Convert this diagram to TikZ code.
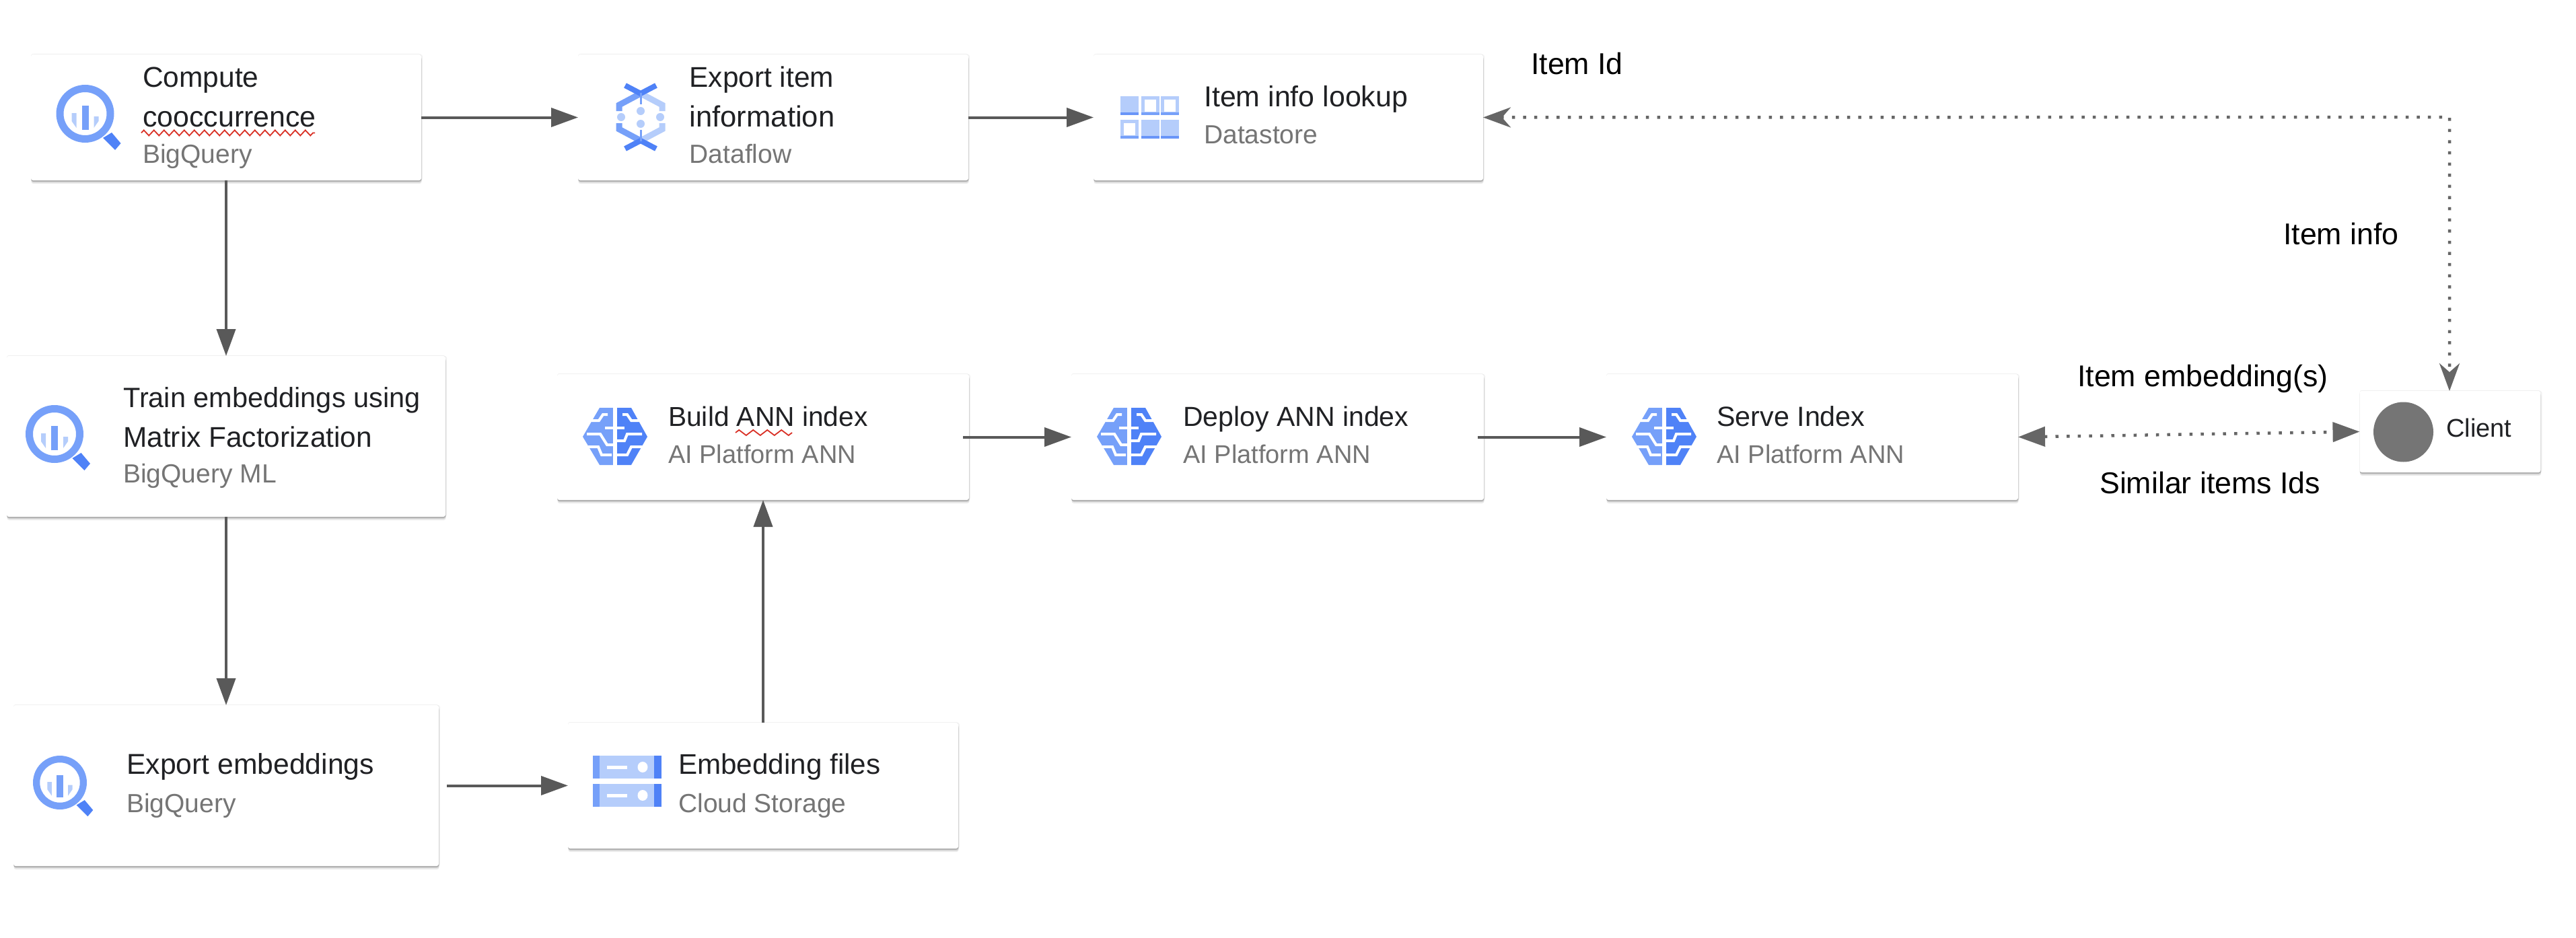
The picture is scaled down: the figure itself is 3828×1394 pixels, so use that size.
\documentclass[tikz,border=0pt]{standalone}
\usepackage{fontspec}
\setmainfont{Liberation Sans}
\usetikzlibrary{arrows.meta,decorations.pathmorphing}
\definecolor{ink}{HTML}{202124}
\definecolor{sub}{HTML}{757575}
\definecolor{ln}{HTML}{595959}
\definecolor{dots}{HTML}{666666}
\definecolor{blA}{HTML}{76A0F9}
\definecolor{blB}{HTML}{4F82F7}
\definecolor{blC}{HTML}{B5CDFB}
\definecolor{sq}{HTML}{D93025}
\tikzset{
  x=1pt,y=-1pt,
  card/.style={anchor=north west,inner sep=0pt,outer sep=0pt,rounded corners=3pt,fill=white,
    preaction={fill=black,opacity=.05,transform canvas={xshift=2pt,yshift=0pt}},
    preaction={fill=black,opacity=.06,transform canvas={yshift=1pt}},
    preaction={fill=black,opacity=.08,transform canvas={xshift=.5pt,yshift=-5pt}},
    preaction={fill=black,opacity=.12,transform canvas={xshift=.5pt,yshift=-3pt}},
    preaction={fill=black,opacity=.18,transform canvas={yshift=-1.5pt}}},
  sz/.style={font=\fontsize{#1}{#1}\selectfont},
  ttl/.style={anchor=base west,inner sep=0pt,text=ink,sz=#1},
  ttl/.default=42,
  subt/.style={anchor=base west,inner sep=0pt,text=sub,sz=#1},
  subt/.default=39,
  lbl/.style={anchor=base west,inner sep=0pt,text=black,sz=44.7},
  arr/.style={draw=ln,line width=4pt,-{Triangle[length=40pt,width=28pt]}},
  dotl/.style={draw=dots,line width=4.5pt,dash pattern=on 4.5pt off 12.1pt},
  squig/.style={draw=sq,line width=1.8pt,decorate,decoration={zigzag,amplitude=4pt}},
}
\newcommand\bqicon[3]{%
 \begin{scope}[shift={(#1,#2)},scale=#3]
  \fill[blA,even odd rule] (0,0) circle[radius=43] (0,0) circle[radius=32];
  \fill[blB] (26.5,36) -- (39.5,28) -- (53,44) -- (44.5,54) -- cycle;
  \fill[blA] (-5,-12) rectangle (5,24);
  \fill[blC] (-20,-1) -- (-13,-1) -- (-13,21) -- (-20,11) -- cycle;
  \fill[blC] (20,4) -- (13,4) -- (13,21) -- (20,11) -- cycle;
 \end{scope}}
\newcommand\brainicon[2]{%
 \begin{scope}[shift={(#1,#2)}]
  \fill[blA] (0,-43) -- (-23,-43) -- (-48,0) -- (-23,42) -- (0,42) -- cycle;
  \fill[blB] (0,-43) -- (24,-43) -- (48,0) -- (24,42) -- (0,42) -- cycle;
  \begin{scope}[draw=white,line width=4pt]
   \draw[line width=6pt] (0,-44) -- (0,43);
   \draw (-35,-24) -- (-24,-24) -- (-18,-33) -- (-11,-33);
   \draw (-15,-13) -- (0,-13);
   \draw (-42,-4) -- (-22,-4) -- (-12,12) -- (0,12);
   \draw (-40,15) -- (-25,15) -- (-20,27) -- (-5,27);
   \draw (11,-33) -- (18,-33) -- (24,-24) -- (36,-24);
   \draw (0,-13) -- (14,-13);
   \draw (0,6) -- (14,6) -- (18,-4) -- (40,-4);
   \draw (41,15) -- (24,15) -- (18,27) -- (3,27);
  \end{scope}
 \end{scope}}
\newcommand\dsfull[2]{%
  \fill[blC] (#1,#2) rectangle ++(27,28);
  \fill[blB!85!white] (#1,#2+24) rectangle ++(27,4);}
\newcommand\dsopen[2]{%
  \fill[blC] (#1,#2) rectangle ++(27,28);
  \fill[white] (#1+5,#2+5) rectangle ++(17,18);
  \fill[blA] (#1,#2+24) rectangle ++(27,4);}
\newcommand\bucketicon[2]{%
  \fill[blC] (#1,#2) rectangle ++(102,34);
  \fill[blA] (#1,#2) rectangle ++(10,34);
  \fill[blB] (#1+91,#2) rectangle ++(11,34);
  \fill[white] (#1+21,#2+14.5) rectangle ++(30,5);
  \fill[white] (#1+74,#2+17) ellipse[x radius=7.5,y radius=8];}
\begin{document}
\begin{tikzpicture}
\useasboundingbox (0,0) rectangle (3828,1394);
\fill[white] (0,0) rectangle (3828,1394);

% cards
\node[card,minimum width=580pt,minimum height=187pt] (compute) at (46,81) {};
\node[card,minimum width=580pt,minimum height=187pt] (dflow) at (859,81) {};
\node[card,minimum width=579pt,minimum height=187pt] (lookup) at (1625,81) {};
\node[card,minimum width=652pt,minimum height=239pt] (train) at (10,529) {};
\node[card,minimum width=632pt,minimum height=239pt] (expemb) at (20,1048) {};
\node[card,minimum width=580pt,minimum height=187pt] (files) at (844,1074) {};
\node[card,minimum width=612pt,minimum height=187pt] (build) at (828,556) {};
\node[card,minimum width=613pt,minimum height=187pt] (deploy) at (1592,556) {};
\node[card,minimum width=612pt,minimum height=187pt] (serve) at (2387,556) {};
\node[card,minimum width=269pt,minimum height=121pt] (client) at (3506.5,581) {};

% icons
\bqicon{126.5}{169}{1}
\bqicon{81}{645}{1}
\bqicon{89}{1163}{.93}
\brainicon{914}{649}
\brainicon{1678}{649}
\brainicon{2473}{649}
\bucketicon{881}{1123}
\bucketicon{881}{1165}
% dataflow
\begin{scope}[shift={(952,174)},line width=9pt]
  \draw[blC] (0,-35) -- (32,-18) -- (32,-9);
  \draw[blC] (0,35) -- (32,18) -- (32,9);
  \draw[blA] (0,-35) -- (-32,-18) -- (-32,-9);
  \draw[blA] (0,35) -- (-32,18) -- (-32,9);
  \draw[blB,line width=8pt] (-23,-47) -- (0,-35) -- (23,-47);
  \draw[blB,line width=8pt] (-23,47) -- (0,35) -- (23,47);
  \draw[blA,line width=3pt] (0,-36) -- (0,-19) (0,36) -- (0,19);
  \fill[blC] (0,-9) circle[radius=6] (0,10) circle[radius=6] (-29,0) circle[radius=6] (29,0) circle[radius=6];
\end{scope}
% datastore
\dsfull{1665}{143}\dsopen{1696}{143}\dsopen{1725}{143}
\dsopen{1665}{178}\dsfull{1696}{178}\dsfull{1725}{178}
% client
\fill[sub] (3571.5,642) circle[radius=44.5];

% text
\node[ttl=42.5] (t1) at (212,130) {Compute};
\node[ttl=42.9] (t2) at (212,188) {cooccurrence};
\node[subt] (t3) at (212,242) {BigQuery};
\node[ttl=42.4] (t4) at (1024.5,130) {Export item};
\node[ttl=43.6] (t5) at (1024.5,188) {information};
\node[subt] (t6) at (1024.5,242) {Dataflow};
\node[ttl=42.9] (t7) at (1789,158) {Item info lookup};
\node[subt] (t8) at (1789,213) {Datastore};
\node[ttl=41.5] (t9) at (183,605) {Train embeddings using};
\node[ttl=42.4] (t10) at (183,664) {Matrix Factorization};
\node[subt] (t11) at (183,717) {BigQuery ML};
\node[ttl=42.7] (t12) at (188,1150) {Export embeddings};
\node[subt] (t13) at (188,1207) {BigQuery};
\node[ttl=42.2] (t14) at (1008,1150) {Embedding files};
\node[subt] (t15) at (1008,1207) {Cloud Storage};
\node[ttl=40.7] (t16) at (993,633) {Build ANN index};
\node[subt=38] (t17) at (993,688) {AI Platform ANN};
\node[ttl=41] (t18) at (1758,633) {Deploy ANN index};
\node[subt=38] (t19) at (1758,688) {AI Platform ANN};
\node[ttl=41.3] (t20) at (2551,633) {Serve Index};
\node[subt=38] (t21) at (2551,688) {AI Platform ANN};
\node[ttl=38] (t22) at (3635,649) {Client};
\node[lbl] (l1) at (2275,111) {Item Id};
\node[lbl] (l2) at (3393,363) {Item info};
\node[lbl] (l3) at (3087,574) {Item embedding(s)};
\node[lbl] (l4) at (3120,733) {Similar items Ids};

% spell-check squiggles
\coordinate (sqa) at (210,197.5);
\coordinate (sqb) at (468,197.5);
\coordinate (sqc) at (1093,643);
\coordinate (sqd) at (1177,643);
\draw[squig,decoration={segment length=15pt}] (sqa) -- (sqb);
\draw[squig,decoration={segment length=21pt}] (sqc) -- (sqd);

% connectors
\draw[arr] (compute.east) -- (dflow.west);
\draw[arr] (dflow.east) -- (lookup.west);
\draw[arr] (compute.south) -- (train.north);
\draw[arr] (train.south) -- (expemb.north);
\draw[arr,shorten <=12pt] (expemb.east) -- (files.west);
\draw[arr] (files.north) -- (build.south);
\draw[arr,shorten <=-9pt] (build.east) -- (deploy.west);
\draw[arr,shorten <=-9pt] (deploy.east) -- (serve.west);
\coordinate (corner) at (3640,174);
\draw[dotl,{Stealth[length=41pt,width=30pt,inset=13pt]}-{Stealth[length=41pt,width=30pt,inset=13pt]}] (lookup.east) -- (corner) -- (corner |- client.north);
\draw[dotl,{Triangle[length=40pt,width=29pt]}-{Triangle[length=40pt,width=29pt]}] (serve.east) -- (client.west);
\end{tikzpicture}
\end{document}
